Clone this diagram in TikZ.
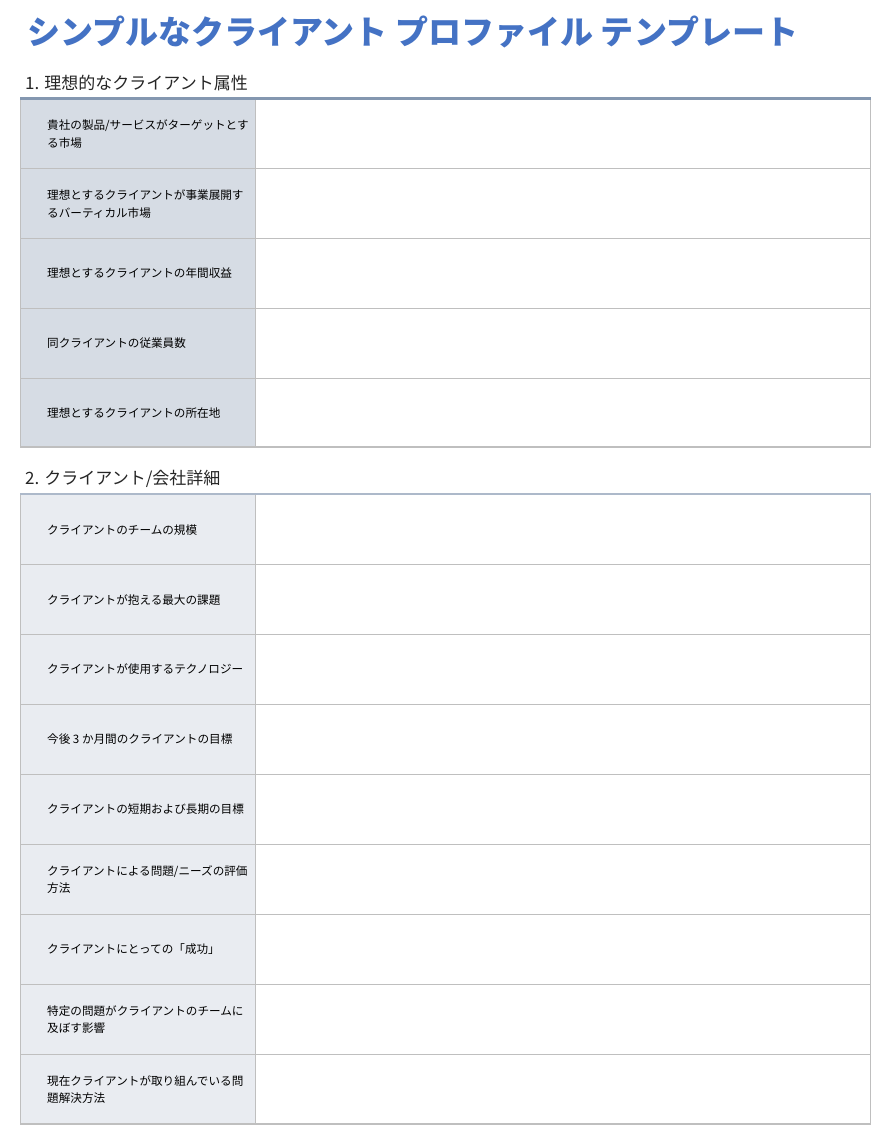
\documentclass[tikz,border=0pt]{standalone}
\usepackage{fontspec}
\setmainfont{Noto Sans CJK JP}
\definecolor{titleblue}{HTML}{4472C4}
\definecolor{headA}{HTML}{8497B0}
\definecolor{headB}{HTML}{ADB9CA}
\definecolor{fillA}{HTML}{D6DCE4}
\definecolor{fillB}{HTML}{E9ECF1}
\definecolor{grid}{HTML}{BFBFBF}
\tikzset{
  titletext/.style={anchor=west, inner sep=0pt, text=titleblue, font=\fontsize{33}{38}\selectfont\bfseries},
  sectext/.style={anchor=west, inner sep=0pt, text=black!85, font=\fontsize{17}{20}\selectfont},
  celltext/.style={anchor=west, inner sep=0pt, align=left, text=black, font=\fontsize{11.6}{17.5}\selectfont},
  gridline/.style={draw=grid, line width=1pt},
}
\begin{document}
\begin{tikzpicture}[x=1pt,y=-1pt]
\useasboundingbox[fill=white] (0,0) rectangle (896,1138);
\node[titletext] (title) at (27,32) {シンプルなクライアント プロファイル テンプレート};
% ---------- Section 1
\node[sectext] (s1) at (25,83) {1. 理想的なクライアント属性};
\fill[fillA] (20,99) rectangle (256,447);
\foreach \y in {168,238,308,378} \draw[gridline] (20,\y) -- (871,\y);
\draw[gridline] (20.5,99) -- (20.5,447);
\draw[gridline] (255.5,99) -- (255.5,447);
\draw[gridline] (870.5,99) -- (870.5,447);
\draw[draw=grid, line width=2pt] (20,447) -- (871,447);
\draw[draw=headA, line width=3.2pt] (20,98.3) -- (871,98.3);
\node[celltext] (a1) at (47,134) {貴社の製品/サービスがターゲットとす\\る市場};
\node[celltext] (a2) at (47,204) {理想とするクライアントが事業展開す\\るバーティカル市場};
\node[celltext] (a3) at (47,273.5) {理想とするクライアントの年間収益};
\node[celltext] (a4) at (47,343.5) {同クライアントの従業員数};
\node[celltext] (a5) at (47,413) {理想とするクライアントの所在地};
% ---------- Section 2
\node[sectext] (s2) at (25,479) {2. クライアント/会社詳細};
\fill[fillB] (20,495) rectangle (256,1124);
\foreach \y in {564,634,704,774,844,914,984,1054} \draw[gridline] (20,\y) -- (871,\y);
\draw[gridline] (20.5,495) -- (20.5,1124);
\draw[gridline] (255.5,495) -- (255.5,1124);
\draw[gridline] (870.5,495) -- (870.5,1124);
\draw[draw=grid, line width=2pt] (20,1124) -- (871,1124);
\draw[draw=headB, line width=2.2pt] (20,494) -- (871,494);
\node[celltext] (b1) at (47,530) {クライアントのチームの規模};
\node[celltext] (b2) at (47,600) {クライアントが抱える最大の課題};
\node[celltext] (b3) at (47,669.5) {クライアントが使用するテクノロジー};
\node[celltext] (b4) at (47,739.5) {今後 3 か月間のクライアントの目標};
\node[celltext] (b5) at (47,809.5) {クライアントの短期および長期の目標};
\node[celltext] (b6) at (47,879.5) {クライアントによる問題/ニーズの評価\\方法};
\node[celltext] (b7) at (47,949.5) {クライアントにとっての「成功」};
\node[celltext] (b8) at (47,1019.5) {特定の問題がクライアントのチームに\\及ぼす影響};
\node[celltext] (b9) at (47,1089.5) {現在クライアントが取り組んでいる問\\題解決方法};
\end{tikzpicture}
\end{document}
